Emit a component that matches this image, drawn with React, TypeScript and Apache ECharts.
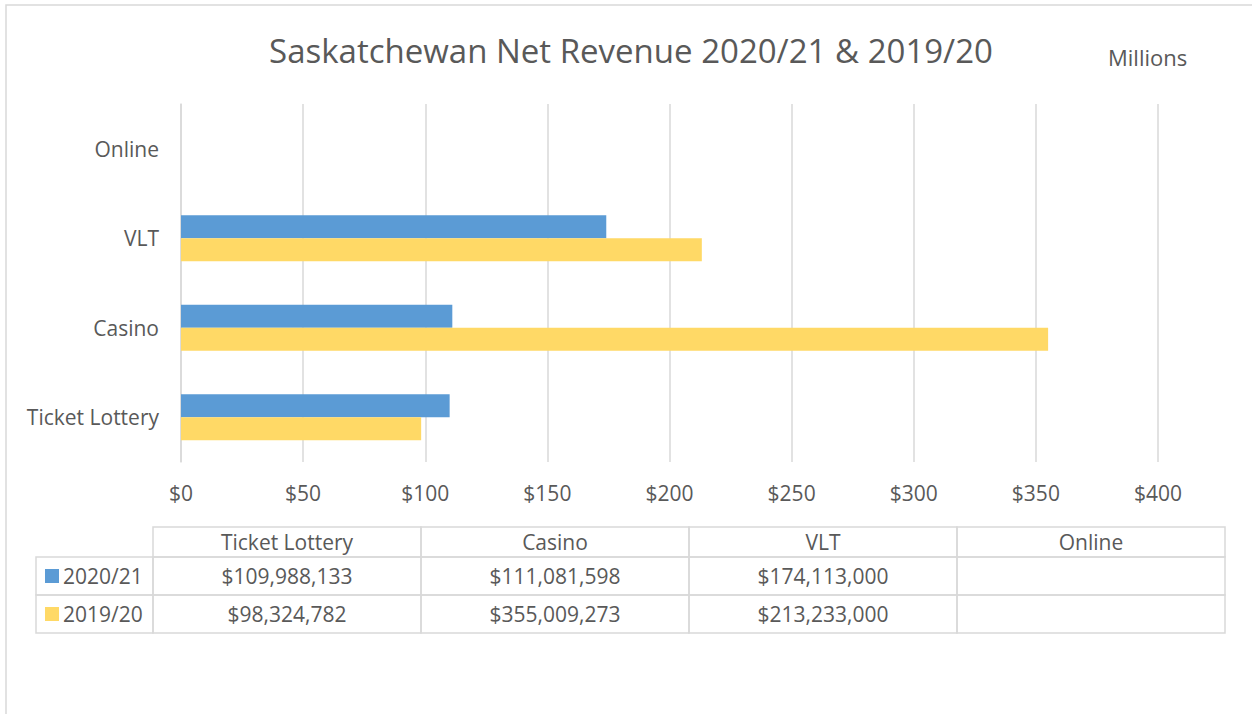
import React, { useEffect, useRef } from "react";
import * as echarts from "echarts";

const categories = ["Ticket Lottery", "Casino", "VLT", "Online"];
const seriesNames = ["2020/21", "2019/20"];
const revenue2021: (number | null)[] = [109988133, 111081598, 174113000, null];
const revenue1920: (number | null)[] = [98324782, 355009273, 213233000, null];
const seriesColors = ["#5B9BD5", "#FFD966"];
const xTicks = [0, 50, 100, 150, 200, 250, 300, 350, 400];

const FONT = "'Open Sans', 'Noto Sans', sans-serif";
const TEXT = "#595959";
const LINE = "#D9D9D9";

function fmt(v: number | null) {
  return v == null ? "" : "$" + v.toLocaleString("en-US");
}

export default function App() {
  const ref = useRef<HTMLDivElement>(null);
  useEffect(() => {
    document.body.style.margin = "0";
    const chart = echarts.init(ref.current!, null, { renderer: "svg" });

    const tableLeft = 153;
    const colW = 268;
    const legendLeft = 36;
    const rowTops = [527, 557, 595, 633];
    const elements: any[] = [];
    categories.forEach((c, i) => {
      const x = tableLeft + i * colW;
      elements.push({
        type: "rect",
        shape: { x, y: rowTops[0], width: colW, height: rowTops[1] - rowTops[0] },
        style: { fill: "none", stroke: LINE, lineWidth: 1.5 },
      });
      elements.push({
        type: "text",
        x: x + colW / 2,
        y: (rowTops[0] + rowTops[1]) / 2,
        style: { text: c, fill: TEXT, font: `21px ${FONT}`, align: "center", verticalAlign: "middle" },
      });
    });
    const rows = [revenue2021, revenue1920];
    rows.forEach((vals, r) => {
      const y0 = rowTops[r + 1];
      const h = rowTops[r + 2] - y0;
      elements.push({
        type: "rect",
        shape: { x: legendLeft, y: y0, width: tableLeft - legendLeft, height: h },
        style: { fill: "none", stroke: LINE, lineWidth: 1.5 },
      });
      elements.push({
        type: "rect",
        shape: { x: 45, y: y0 + h / 2 - 7, width: 14, height: 14 },
        style: { fill: seriesColors[r] },
      });
      elements.push({
        type: "text",
        x: 63,
        y: y0 + h / 2,
        style: { text: seriesNames[r], fill: TEXT, font: `21px ${FONT}`, align: "left", verticalAlign: "middle" },
      });
      vals.forEach((v, i) => {
        const x = tableLeft + i * colW;
        elements.push({
          type: "rect",
          shape: { x, y: y0, width: colW, height: h },
          style: { fill: "none", stroke: LINE, lineWidth: 1.5 },
        });
        elements.push({
          type: "text",
          x: x + colW / 2,
          y: y0 + h / 2,
          style: { text: fmt(v), fill: TEXT, font: `21px ${FONT}`, align: "center", verticalAlign: "middle" },
        });
      });
    });
    elements.push({
      type: "polyline",
      shape: { points: [[6, 714], [6, 5], [1252, 5]] },
      style: { stroke: LINE, lineWidth: 1.5, fill: "none" },
    });
    elements.push({
      type: "text",
      x: 1108,
      y: 57,
      style: { text: "Millions", fill: TEXT, font: `22px ${FONT}`, align: "left", verticalAlign: "middle" },
    });

    chart.setOption({
      animation: false,
      backgroundColor: "#ffffff",
      title: {
        text: "Saskatchewan Net Revenue 2020/21 & 2019/20",
        left: 626,
        top: 29,
        textAlign: "center",
        textStyle: { color: TEXT, fontFamily: FONT, fontSize: 33, fontWeight: "normal" },
      },
      grid: { left: 181, right: 94, top: 104, bottom: 252, containLabel: false },
      xAxis: {
        type: "value",
        min: xTicks[0],
        max: xTicks[xTicks.length - 1],
        interval: 50,
        axisLine: { show: false },
        axisTick: { show: false },
        splitLine: { show: true, lineStyle: { color: LINE, width: 1.5 } },
        axisLabel: {
          color: TEXT,
          fontFamily: FONT,
          fontSize: 21,
          margin: 20,
          formatter: (v: number) => "$" + v,
        },
      },
      yAxis: {
        type: "category",
        data: categories,
        axisLine: { show: true, lineStyle: { color: LINE, width: 1.5 } },
        axisTick: { show: false },
        axisLabel: { color: TEXT, fontFamily: FONT, fontSize: 21, margin: 22 },
      },
      series: [
        {
          name: seriesNames[0],
          type: "bar",
          data: revenue2021.map((v) => (v == null ? null : v / 1e6)),
          itemStyle: { color: seriesColors[0] },
          barWidth: 23,
          barGap: "0%",
        },
        {
          name: seriesNames[1],
          type: "bar",
          data: revenue1920.map((v) => (v == null ? null : v / 1e6)),
          itemStyle: { color: seriesColors[1] },
          barWidth: 23,
          barGap: "0%",
        },
      ],
      graphic: { elements },
    });
    return () => chart.dispose();
  }, []);
  return <div ref={ref} style={{ position: "fixed", left: 0, top: 0, width: 1252, height: 714 }} />;
}
